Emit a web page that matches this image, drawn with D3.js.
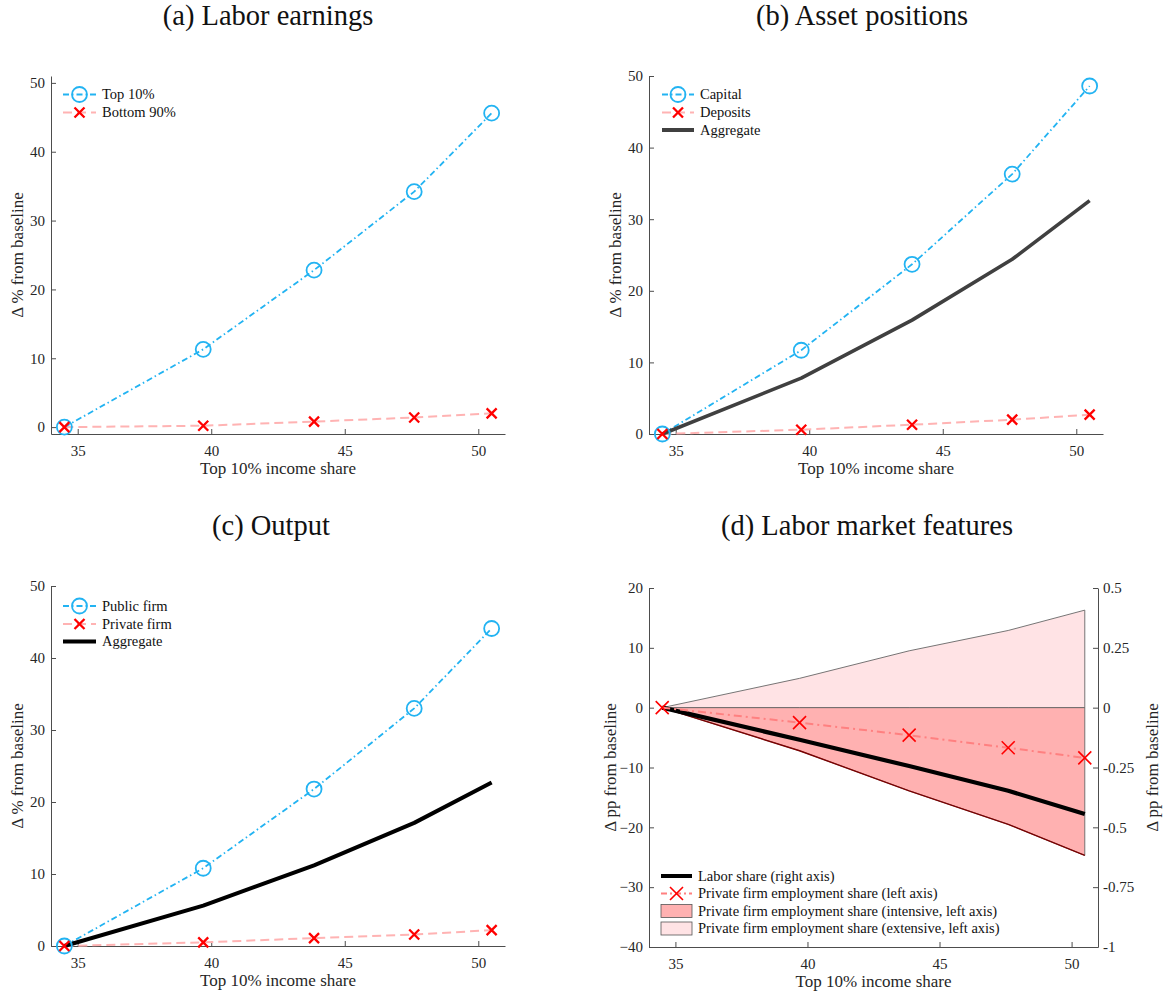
<!DOCTYPE html>
<html>
<head>
<meta charset="utf-8">
<script src="https://cdn.jsdelivr.net/npm/d3@7/dist/d3.min.js"></script>
<style>
  html, body { margin: 0; padding: 0; background: #fff; }
</style>
</head>
<body>
<svg id="chart" width="1168" height="996"></svg>
<script>
// ---------------- data ----------------
const xVals = [34.5, 39.7, 43.85, 47.6, 50.5];           // Top 10% income share
const xTicks = [35, 40, 45, 50];
const yTicksPct = [0, 10, 20, 30, 40, 50];
const yTicksLeftD = [-40, -30, -20, -10, 0, 10, 20];
const yTicksRightD = [-1, -0.75, -0.5, -0.25, 0, 0.25, 0.5];

// (a) Labor earnings
const top10 = [0, 11.3, 22.8, 34.2, 45.6];
const bottom90 = [0, 0.2, 0.8, 1.4, 2.0];
// (b) Asset positions
const capital = [0, 11.7, 23.7, 36.3, 48.6];
const deposits = [0, 0.6, 1.3, 2.0, 2.7];
const assetAggregate = [0, 7.8, 15.9, 24.4, 32.6];
// (c) Output
const publicFirm = [0, 10.8, 21.8, 33.0, 44.1];
const privateFirm = [0, 0.5, 1.1, 1.6, 2.2];
const outputAggregate = [0, 5.6, 11.2, 17.1, 22.7];
// (d) Labor market features
const laborShare = [0, -0.134, -0.244, -0.347, -0.444];       // right axis
const privateEmpShare = [0, -2.5, -4.6, -6.7, -8.4];          // left axis
const intensiveMargin = [0, -7.2, -13.9, -19.5, -24.7];       // left axis
const extensiveMargin = [0, 4.9, 9.5, 12.9, 16.3];            // left axis

const titles = ["(a) Labor earnings", "(b) Asset positions", "(c) Output", "(d) Labor market features"];
const xLabel = "Top 10% income share";
const yLabelPct = "\u0394 % from baseline";
const yLabelPP = "\u0394 pp from baseline";

// ---------------- styles ----------------
const FONT = "'Liberation Serif', Tinos, 'DejaVu Serif', 'Noto Serif', serif";
const BLUE = "#22b3f2";
const RED = "#ff0000";
const PINK = "#ffb3b3";
const AXIS = "#4d4d4d";
const TXT = "#262626";
const TICK_FS = 15, LAB_FS = 17, LEG_FS = 14.5, TITLE_FS = 28.5;

const svg = d3.select("#chart");

function addText(parent) {
  return parent.append("text").attr("font-family", FONT).style("font-family", FONT);
}

function panel(cfg) {
  const g = svg.append("g");
  const x = d3.scaleLinear().domain([34, 51]).range([cfg.left, cfg.right]);
  const y = d3.scaleLinear().domain(cfg.yDomain).range([cfg.bottom, cfg.top]);

  const xAxis = d3.axisBottom(x).tickValues(xTicks).tickSizeInner(-5).tickSizeOuter(0).tickPadding(11);
  const gx = g.append("g").attr("transform", `translate(0,${cfg.bottom})`).call(xAxis);
  const yAxis = d3.axisLeft(y).tickValues(cfg.yTicks).tickSizeInner(-5).tickSizeOuter(0).tickPadding(6)
    .tickFormat(cfg.yFormat || d3.format("d"));
  const gy = g.append("g").attr("transform", `translate(${cfg.left},0)`).call(yAxis);
  [gx, gy].forEach(a => {
    a.attr("font-family", FONT);
    a.select(".domain").attr("stroke", AXIS).attr("stroke-width", 1);
    a.selectAll(".tick line").attr("stroke", AXIS).attr("stroke-width", 1);
    a.selectAll(".tick text").attr("fill", TXT).style("font-size", TICK_FS + "px")
      .attr("font-family", FONT).style("font-family", FONT);
  });
  gx.selectAll(".tick text").attr("dy", "0.71em");

  addText(svg).attr("x", cfg.titleX).attr("y", cfg.titleY).attr("text-anchor", "middle")
    .attr("fill", "#111").style("font-size", TITLE_FS + "px").text(cfg.title);
  addText(svg).attr("x", (cfg.left + cfg.right) / 2).attr("y", cfg.bottom + 40)
    .attr("text-anchor", "middle").attr("fill", TXT).style("font-size", LAB_FS + "px").text(xLabel);
  addText(svg).attr("transform", `translate(${cfg.yLabelX},${(cfg.top + cfg.bottom) / 2}) rotate(-90)`)
    .attr("text-anchor", "middle").attr("dy", "0.35em").attr("fill", TXT)
    .style("font-size", LAB_FS + "px").text(cfg.yLabel);
  return { g, x, y };
}

function drawLine(g, x, y, vals, style) {
  const line = d3.line().x((d, i) => x(xVals[i])).y(d => y(d));
  g.append("path").datum(vals).attr("d", line).attr("fill", "none")
    .attr("stroke", style.color).attr("stroke-width", style.width)
    .attr("stroke-dasharray", style.dash || null).attr("stroke-linejoin", "round");
}
function drawCircles(g, x, y, vals) {
  g.selectAll(null).data(vals).enter().append("circle")
    .attr("cx", (d, i) => x(xVals[i])).attr("cy", d => y(d)).attr("r", 7.5)
    .attr("fill", "none").attr("stroke", BLUE).attr("stroke-width", 1.8);
}
function crossPath(cx, cy, s) {
  return `M${cx - s},${cy - s}L${cx + s},${cy + s}M${cx - s},${cy + s}L${cx + s},${cy - s}`;
}
function drawCrosses(g, x, y, vals, s, w) {
  g.selectAll(null).data(vals).enter().append("path")
    .attr("d", (d, i) => crossPath(x(xVals[i]), y(d), s))
    .attr("stroke", RED).attr("stroke-width", w).attr("fill", "none");
}

function legText(g, xx, yy, label) {
  addText(g).attr("x", xx).attr("y", yy).attr("dy", "0.33em").attr("fill", "#111")
    .style("font-size", LEG_FS + "px").text(label);
}
function legCircleItem(g, x0, x1, yy, label) {
  g.append("line").attr("x1", x0).attr("x2", x1).attr("y1", yy).attr("y2", yy)
    .attr("stroke", BLUE).attr("stroke-width", 1.8).attr("stroke-dasharray", "6,3,1.5,3");
  g.append("circle").attr("cx", (x0 + x1) / 2).attr("cy", yy).attr("r", 7.5)
    .attr("fill", "none").attr("stroke", BLUE).attr("stroke-width", 1.8);
  legText(g, x1 + 6, yy, label);
}
function legCrossItem(g, x0, x1, yy, label, lineColor, dash, s, w) {
  g.append("line").attr("x1", x0).attr("x2", x1).attr("y1", yy).attr("y2", yy)
    .attr("stroke", lineColor).attr("stroke-width", 2).attr("stroke-dasharray", dash);
  g.append("path").attr("d", crossPath((x0 + x1) / 2, yy, s)).attr("stroke", RED)
    .attr("stroke-width", w).attr("fill", "none");
  legText(g, x1 + 6, yy, label);
}
function legLineItem(g, x0, x1, yy, label, color, width) {
  g.append("line").attr("x1", x0).attr("x2", x1).attr("y1", yy).attr("y2", yy)
    .attr("stroke", color).attr("stroke-width", width);
  legText(g, x1 + 6, yy, label);
}
function legRectItem(g, x0, x1, yy, label, fill) {
  g.append("rect").attr("x", x0).attr("y", yy - 6.5).attr("width", x1 - x0).attr("height", 13)
    .attr("fill", fill).attr("stroke", "#555").attr("stroke-width", 0.8);
  legText(g, x1 + 6, yy, label);
}

// ---------------- (a) ----------------
{
  const p = panel({ left: 51, right: 505, top: 76, bottom: 434, yDomain: [-1, 51], yTicks: yTicksPct,
    title: titles[0], titleX: 268, titleY: 25, yLabel: yLabelPct, yLabelX: 17 });
  drawLine(p.g, p.x, p.y, bottom90, { color: PINK, width: 2, dash: "9,5" });
  drawLine(p.g, p.x, p.y, top10, { color: BLUE, width: 1.8, dash: "6,3,1.5,3" });
  drawCircles(p.g, p.x, p.y, top10);
  drawCrosses(p.g, p.x, p.y, bottom90, 5, 2.3);
  legCircleItem(p.g, 63, 96, 94.5, "Top 10%");
  legCrossItem(p.g, 63, 96, 112.5, "Bottom 90%", PINK, "9,5", 5, 2.3);
}
// ---------------- (b) ----------------
{
  const p = panel({ left: 649, right: 1103, top: 76, bottom: 434, yDomain: [0, 50], yTicks: yTicksPct,
    title: titles[1], titleX: 862, titleY: 25, yLabel: yLabelPct, yLabelX: 615 });
  drawLine(p.g, p.x, p.y, deposits, { color: PINK, width: 2, dash: "9,5" });
  drawLine(p.g, p.x, p.y, capital, { color: BLUE, width: 1.8, dash: "6,3,1.5,3" });
  drawLine(p.g, p.x, p.y, assetAggregate, { color: "#404040", width: 3.6 });
  drawCircles(p.g, p.x, p.y, capital);
  drawCrosses(p.g, p.x, p.y, deposits, 5, 2.3);
  legCircleItem(p.g, 662, 694, 94.5, "Capital");
  legCrossItem(p.g, 662, 694, 112.5, "Deposits", PINK, "9,5", 5, 2.3);
  legLineItem(p.g, 662, 694, 130, "Aggregate", "#404040", 4);
}
// ---------------- (c) ----------------
{
  const p = panel({ left: 51, right: 505, top: 586, bottom: 946, yDomain: [0, 50], yTicks: yTicksPct,
    title: titles[2], titleX: 271, titleY: 535, yLabel: yLabelPct, yLabelX: 17 });
  drawLine(p.g, p.x, p.y, privateFirm, { color: PINK, width: 2, dash: "9,5" });
  drawLine(p.g, p.x, p.y, publicFirm, { color: BLUE, width: 1.8, dash: "6,3,1.5,3" });
  drawLine(p.g, p.x, p.y, outputAggregate, { color: "#000", width: 4 });
  drawCircles(p.g, p.x, p.y, publicFirm);
  drawCrosses(p.g, p.x, p.y, privateFirm, 5, 2.3);
  legCircleItem(p.g, 63, 96, 606, "Public firm");
  legCrossItem(p.g, 63, 96, 624, "Private firm", PINK, "9,5", 5, 2.3);
  legLineItem(p.g, 63, 96, 641.5, "Aggregate", "#000", 4);
}
// ---------------- (d) ----------------
{
  const p = panel({ left: 649, right: 1098, top: 588, bottom: 947, yDomain: [-40, 20], yTicks: yTicksLeftD,
    title: titles[3], titleX: 867, titleY: 535, yLabel: yLabelPP, yLabelX: 610 });
  const yR = d3.scaleLinear().domain([-1, 0.5]).range([947, 588]);
  const rAxis = d3.axisRight(yR).tickValues(yTicksRightD).tickSizeInner(-5).tickSizeOuter(0).tickPadding(5)
    .tickFormat(d => String(d));
  const gr = p.g.append("g").attr("transform", "translate(1098,0)").call(rAxis);
  gr.attr("font-family", FONT);
  gr.select(".domain").attr("stroke", AXIS).attr("stroke-width", 1);
  gr.selectAll(".tick line").attr("stroke", AXIS);
  gr.selectAll(".tick text").attr("fill", TXT).style("font-size", TICK_FS + "px")
    .attr("font-family", FONT).style("font-family", FONT);
  addText(svg).attr("transform", `translate(1152,${(588 + 947) / 2}) rotate(-90)`)
    .attr("text-anchor", "middle").attr("dy", "0.35em").attr("fill", TXT)
    .style("font-size", LAB_FS + "px").text(yLabelPP);

  const x = p.x, y = p.y;
  const area = d3.area().x((d, i) => x(xVals[i])).y0(y(0)).y1(d => y(d));
  p.g.append("path").datum(extensiveMargin).attr("d", area)
    .attr("fill", "#ffe3e5").attr("stroke", "#666").attr("stroke-width", 0.9);
  p.g.append("path").datum(intensiveMargin).attr("d", area)
    .attr("fill", "#ffb1b1").attr("stroke", "#666").attr("stroke-width", 0.9);
  drawLine(p.g, x, y, intensiveMargin, { color: "#7a0000", width: 1.4 });
  drawLine(p.g, x, yR, laborShare, { color: "#000", width: 4.2 });
  drawLine(p.g, x, y, privateEmpShare, { color: "#ff8080", width: 2, dash: "8,4,2,4" });
  drawCrosses(p.g, x, y, privateEmpShare, 6.5, 1.6);

  legLineItem(p.g, 661, 692, 876, "Labor share (right axis)", "#000", 4);
  legCrossItem(p.g, 661, 692, 893.5, "Private firm employment share (left axis)", "#ff8080", "6,3,2,3", 6.5, 1.6);
  legRectItem(p.g, 661, 692, 911, "Private firm employment share (intensive, left axis)", "#ffb1b1");
  legRectItem(p.g, 661, 692, 928.5, "Private firm employment share (extensive, left axis)", "#ffe3e5");
}
</script>
</body>
</html>
